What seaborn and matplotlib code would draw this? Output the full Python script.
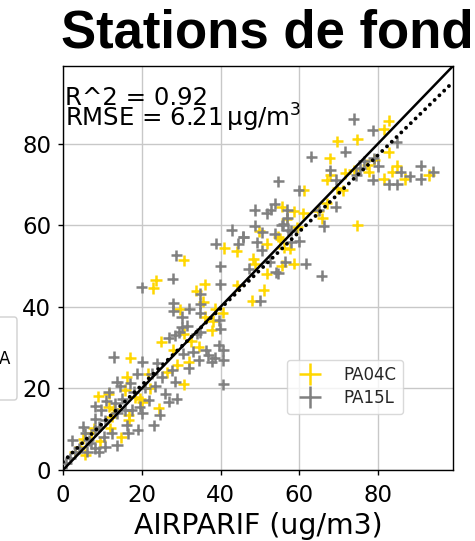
import matplotlib
matplotlib.use("Agg")
import matplotlib.pyplot as plt
from matplotlib.patches import FancyBboxPatch
import seaborn as sns
import pandas as pd

# ---------------- data ----------------
pa04c_x = [17.1, 25.0, 30.6, 34.4, 31.9, 29.0, 30.6, 21.6, 16.2, 15.8,
           18.4, 24.3, 20.1, 19.6, 11.6, 8.9, 11.6, 12.4, 16.7, 16.7,
           12.0, 14.8, 7.8, 7.0, 5.2, 4.4, 5.7, 3.0, 9.5, 13.0,
           22.0, 26.5, 28.0, 32.5,
           55.5, 58.6, 61.0, 56.8, 49.8, 55.1, 59.5, 51.7, 40.9, 44.1,
           57.6, 48.3, 48.7, 51.7, 55.5, 58.6, 30.6, 23.6, 22.9, 36.0,
           33.8, 35.6, 29.7, 38.6, 38.0, 37.7, 36.0, 40.5, 48.0, 51.0,
           44.2, 54.7, 56.0,
           82.7, 81.4, 69.6, 74.7, 82.7, 67.7, 79.0, 84.7, 92.9, 81.4,
           86.8, 83.6, 77.6, 77.2, 73.8, 71.7, 67.0, 69.6, 71.0, 61.1,
           67.0, 65.8, 74.7, 64.8, 67.8]
pa04c_y = [27.5, 31.4, 33.4, 30.2, 26.5, 25.8, 21.0, 23.6, 22.8, 19.6,
           17.9, 15.1, 16.7, 17.5, 18.7, 18.1, 15.5, 13.1, 13.4, 12.2,
           10.2, 8.0, 10.2, 9.0, 7.7, 5.7, 3.7, 4.5, 7.0, 15.0,
           20.0, 24.0, 29.5, 31.5,
           64.5, 63.4, 62.9, 61.5, 58.5, 56.6, 59.5, 55.4, 54.4, 53.6,
           54.2, 51.8, 50.6, 48.1, 50.1, 50.6, 51.4, 46.5, 44.6, 45.5,
           43.9, 41.2, 39.4, 39.5, 36.5, 34.2, 37.5, 38.5, 41.5, 44.1,
           45.3, 57.2, 54.5,
           85.6, 83.5, 80.5, 81.0, 77.9, 76.4, 76.0, 74.6, 72.3, 71.3,
           71.3, 73.1, 73.1, 74.8, 73.5, 72.7, 71.1, 69.0, 68.6, 68.5,
           65.4, 61.7, 60.0, 63.5, 72.3]

pa15l_x = [12.9, 26.8, 28.5, 34.0, 34.4, 31.9, 20.1, 23.9, 27.7, 28.5,
           25.1, 22.6, 18.8, 13.7, 14.5, 17.1, 18.0, 20.9, 23.4, 26.0,
           26.8, 28.9, 21.8, 20.1, 23.0, 19.0, 11.6, 8.2, 9.7, 13.3,
           13.7, 15.8, 17.5, 10.7, 8.2, 9.1, 12.4, 16.2, 13.7, 10.3,
           8.2, 5.2, 5.7, 6.5, 2.3, 4.0, 8.2, 10.7, 9.1, 6.1,
           3.1, 1.9, 0.8, 15.0, 19.5, 24.5, 11.0, 16.5, 7.0, 30.5,
           33.0,
           53.8, 48.7, 51.7, 52.7, 55.9, 48.7, 42.8, 50.6, 53.8, 58.0,
           45.8, 49.2, 44.5, 38.8, 50.5, 58.0, 60.0, 52.5, 47.1, 54.0,
           56.4, 61.6, 65.7, 28.7, 39.9, 27.8, 20.0, 39.9, 34.8, 34.8,
           28.0, 32.0, 28.0, 30.2, 34.8, 39.7, 39.9, 31.5, 30.2, 29.5,
           34.8, 39.5, 40.7, 36.9, 37.7, 40.7, 40.7, 36.2, 38.5,
           73.8, 78.6, 84.7, 71.7, 63.0, 78.9, 76.4, 75.5, 90.8, 94.0,
           90.8, 82.7, 84.8, 85.7, 78.6, 74.5, 67.9, 69.2, 54.7, 59.8,
           69.2, 56.9, 56.9, 64.9, 66.2, 55.6, 57.0, 54.7, 45.8, 88.0,
           80.0, 50.1]
pa15l_y = [27.7, 32.4, 33.0, 33.4, 26.9, 24.9, 26.5, 26.1, 24.4, 21.6,
           22.8, 23.6, 23.6, 21.6, 20.5, 21.2, 19.2, 20.2, 20.5, 18.7,
           16.7, 17.5, 17.1, 13.9, 11.0, 9.9, 19.1, 15.6, 14.7, 16.3,
           13.9, 14.7, 14.7, 12.2, 12.6, 10.6, 9.0, 11.0, 6.1, 8.2,
           9.8, 10.6, 9.0, 7.3, 7.3, 5.3, 5.3, 5.7, 4.5, 4.5,
           4.5, 2.9, 1.6, 17.5, 15.5, 13.5, 17.0, 9.0, 6.5, 28.5,
           29.0,
           65.2, 63.7, 62.9, 63.8, 60.3, 59.9, 58.8, 58.2, 57.9, 58.6,
           57.1, 55.8, 55.4, 55.4, 53.8, 55.8, 56.0, 51.0, 49.3, 48.5,
           51.0, 50.6, 47.6, 52.6, 49.9, 46.9, 44.8, 45.5, 43.2, 40.8,
           40.9, 39.5, 39.0, 37.5, 38.5, 36.7, 34.6, 35.4, 35.0, 33.8,
           33.8, 30.6, 29.3, 28.1, 26.5, 26.9, 21.0, 29.3, 27.5,
           86.0, 83.2, 80.3, 78.0, 76.8, 76.4, 75.6, 74.0, 74.6, 73.1,
           71.3, 70.0, 70.0, 73.1, 71.1, 72.3, 73.5, 71.1, 70.7, 68.6,
           64.5, 63.7, 61.7, 63.6, 59.8, 60.0, 58.8, 48.2, 57.2, 72.0,
           74.5, 41.5]

stations = ["PA04C", "PA15L"]
station_colors = ["#FFD700", "#808080"]
axis_max = 99.0
fit_slope = 0.94
fit_intercept = 2.0
r2_text = "R^2 = 0.92"
rmse_text = "RMSE = 6.21$\\,\\mathrm{\\mu g/m^3}$"
title_text = "Stations de fond"
xlabel_text = "AIRPARIF (ug/m3)"
xticks = [0, 20, 40, 60, 80]
yticks = [0, 20, 40, 60, 80]

df = pd.concat([
    pd.DataFrame({"obs": pa04c_x, "mod": pa04c_y, "station": stations[0]}),
    pd.DataFrame({"obs": pa15l_x, "mod": pa15l_y, "station": stations[1]}),
], ignore_index=True)

# ---------------- figure ----------------
sns.set_theme(style="ticks")
plt.rcParams["font.family"] = ["DejaVu Sans"]

W, H = 475, 541
fig = plt.figure(figsize=(W / 100, H / 100), dpi=100)
ax = fig.add_axes([63 / W, 1 - 470 / H, 390 / W, 404 / H])

sns.scatterplot(data=df, x="obs", y="mod", hue="station",
                palette=dict(zip(stations, station_colors)),
                marker="+", s=64, linewidth=1.8, ax=ax, zorder=3)

ax.plot([0, axis_max], [0, axis_max], color="black", lw=1.8, zorder=4)
ax.plot([0, axis_max], [fit_intercept, fit_intercept + fit_slope * axis_max],
        color="black", lw=2.8, ls=(0, (0.01, 1.7)), dash_capstyle="round",
        solid_capstyle="round", zorder=4)

ax.set_xlim(0, axis_max)
ax.set_ylim(0, axis_max)
ax.set_xticks(xticks)
ax.set_yticks(yticks)
ax.grid(True, color="#c8c8c8", lw=1.0, zorder=0)
ax.set_axisbelow(True)
for sp in ax.spines.values():
    sp.set_color("black")
    sp.set_linewidth(1.0)
ax.tick_params(axis="both", labelsize=16.5, length=3.5, width=1, color="black",
               labelcolor="black", pad=5)
ax.tick_params(axis="x", pad=6.5)
ax.set_xlabel(xlabel_text, fontsize=20.4, color="black", labelpad=4)
ax.set_ylabel("")

# statistics block: one text, tight line spacing as in the reference
ax.text(0.004, 0.950, r2_text + "\n" + rmse_text, transform=ax.transAxes,
        fontsize=17.6, va="top", ha="left", linespacing=0.68,
        color="black", zorder=6)

handles, labels = ax.get_legend_handles_labels()
leg = ax.legend(handles, labels, loc="lower left",
                bbox_to_anchor=(0.574, 0.139), borderaxespad=0,
                fontsize=12, markerscale=2.0, frameon=True,
                handletextpad=1.0, labelspacing=0.3, borderpad=0.4)
leg.get_frame().set_edgecolor("#d0d0d0")
leg.get_frame().set_alpha(0.8)

# title of the full figure (cropped)
fig.text(61 / W, 1 - 48 / H, title_text, fontsize=38, fontweight="bold",
         family=["Liberation Sans", "DejaVu Sans"], ha="left", va="baseline",
         color="black")

# fragment of neighbouring legend on the left edge (cropped)
box = FancyBboxPatch((-40 / W, 1 - 400 / H), 57 / W, 83 / H,
                     boxstyle="round,pad=0,rounding_size=0.006",
                     transform=fig.transFigure, facecolor="white",
                     edgecolor="#d0d0d0", lw=1.0, zorder=0)
fig.patches.append(box)
fig.text(10 / W, 1 - 359 / H, "A", fontsize=12, ha="right", va="center",
         color="black")

fig.savefig("out.png", dpi=100)
